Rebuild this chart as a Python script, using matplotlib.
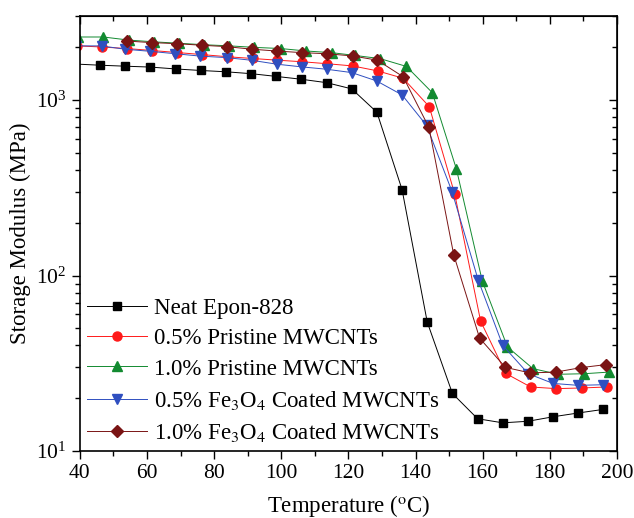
import numpy as np
import matplotlib
matplotlib.use("Agg")
import matplotlib.pyplot as plt
from matplotlib.ticker import LogLocator, MultipleLocator, NullFormatter

plt.rcParams['font.family'] = ['Liberation Serif', 'DejaVu Serif']
plt.rcParams['mathtext.fontset'] = 'stix'

# storage modulus (MPa) vs temperature (C)
t_neat = [38.5, 46, 53.5, 61, 68.5, 76, 83.5, 91, 98.5, 106, 113.5, 121,
          128.5, 136, 143.5, 151, 158.5, 166, 173.5, 181, 188.5, 196]
e_neat = [1600, 1575, 1555, 1537, 1500, 1470, 1445, 1410, 1360, 1310, 1253, 1155,
          850, 308, 54.3, 21.3, 15.3, 14.5, 14.8, 15.7, 16.5, 17.3]

t_p05 = [39, 46.5, 54, 61.5, 69, 76.5, 84, 91.5, 98.7, 106.3, 113.7, 121.3,
         128.7, 136.3, 144.1, 151.7, 159.4, 166.9, 174.3, 182, 189.5, 197]
e_p05 = [2030, 2000, 1960, 1910, 1860, 1810, 1760, 1720, 1683, 1648, 1606, 1560,
         1462, 1328, 915, 290, 55, 27.7, 23.2, 22.7, 22.9, 23.2]

t_p10 = [39.5, 47, 54.5, 62, 69.5, 77, 84.5, 92, 99.8, 107.5, 115, 122,
         129.4, 137.3, 145, 152.2, 159.9, 167.4, 175, 182.5, 190.2, 197.7]
e_p10 = [2280, 2280, 2190, 2140, 2100, 2060, 2030, 1990, 1960, 1897, 1857, 1790,
         1718, 1550, 1099, 403, 93, 39.2, 29.5, 27.4, 27.6, 28.2]

t_f05 = [38.8, 46.5, 53.4, 60.9, 68.3, 75.8, 83.7, 91.2, 98.6, 106.1, 113.5, 121,
         128.4, 136, 143.3, 150.9, 158.7, 166, 173.6, 181, 188.5, 196]
e_f05 = [2030, 2028, 1943, 1890, 1832, 1775, 1740, 1680, 1597, 1541, 1494, 1430,
         1282, 1067, 715, 300, 94, 40, 27.6, 24.3, 23.7, 23.9]

t_f10 = [53.9, 61.4, 68.8, 76.3, 83.7, 91.2, 98.6, 106.3, 113.7, 121.3,
         128.6, 136.3, 144, 151.4, 159.1, 166.8, 174.1, 181.8, 189.3, 196.7]
e_f10 = [2163, 2118, 2090, 2046, 2010, 1943, 1897, 1857, 1830, 1778,
         1683, 1355, 697, 131, 44, 30, 27.9, 28.2, 29.9, 31.1]

labels = ['Neat Epon-828',
          '0.5% Pristine MWCNTs',
          '1.0% Pristine MWCNTs',
          r'0.5% Fe$_3$O$_4$ Coated MWCNTs',
          r'1.0% Fe$_3$O$_4$ Coated MWCNTs']

fig = plt.figure(figsize=(6.34, 5.18), dpi=100)
ax = fig.add_axes([0.126, 0.129, 0.847, 0.840])

series = [
    (t_neat, e_neat, 'black', 's', 5.5),
    (t_p05, e_p05, '#ff1a1a', 'o', 6.5),
    (t_p10, e_p10, '#128a30', '^', 7.5),
    (t_f05, e_f05, '#2f4fc0', 'v', 7.5),
    (t_f10, e_f10, '#7a1414', 'D', 6.5),
]
for (t, e, c, m, ms), lab in zip(series, labels):
    ax.plot(t, e, color=c, lw=0.7, marker=m, ms=ms, mfc=c, mec=c, label=lab)

ax.set_yscale('log')
ax.set_xlim(40, 200)
ax.set_ylim(10, 3000)
ax.xaxis.set_major_locator(MultipleLocator(20))
ax.xaxis.set_minor_locator(MultipleLocator(10))
ax.yaxis.set_major_locator(LogLocator(base=10))
ax.yaxis.set_minor_locator(LogLocator(base=10, subs=np.arange(2, 10)))
ax.yaxis.set_minor_formatter(NullFormatter())
ax.tick_params(which='major', direction='out', length=6, width=1, labelsize=15.5)
ax.tick_params(which='minor', direction='out', length=3.5, width=1)
for s in ax.spines.values():
    s.set_linewidth(1.2)

# inward ticks on top and right
top = ax.secondary_xaxis('top')
top.xaxis.set_major_locator(MultipleLocator(20))
top.xaxis.set_minor_locator(MultipleLocator(10))
top.tick_params(which='major', direction='in', length=6, width=1, labeltop=False)
top.tick_params(which='minor', direction='in', length=3.5, width=1)
right = ax.secondary_yaxis('right')
right.yaxis.set_major_locator(LogLocator(base=10))
right.yaxis.set_minor_locator(LogLocator(base=10, subs=np.arange(2, 10)))
right.yaxis.set_minor_formatter(NullFormatter())
right.tick_params(which='major', direction='in', length=6, width=1, labelright=False)
right.tick_params(which='minor', direction='in', length=3.5, width=1)

ax.set_xlabel(r'Temperature ($^{\mathrm{o}}$C)', fontsize=16.5, labelpad=7)
ax.set_ylabel('Storage Modulus (MPa)', fontsize=16.5, labelpad=4)

ax.legend(loc='lower left', frameon=False, fontsize=16.5, handlelength=2.6,
          handletextpad=0.3, labelspacing=0.4, borderaxespad=0.12, borderpad=0.2)

fig.savefig('out.png', dpi=100)
